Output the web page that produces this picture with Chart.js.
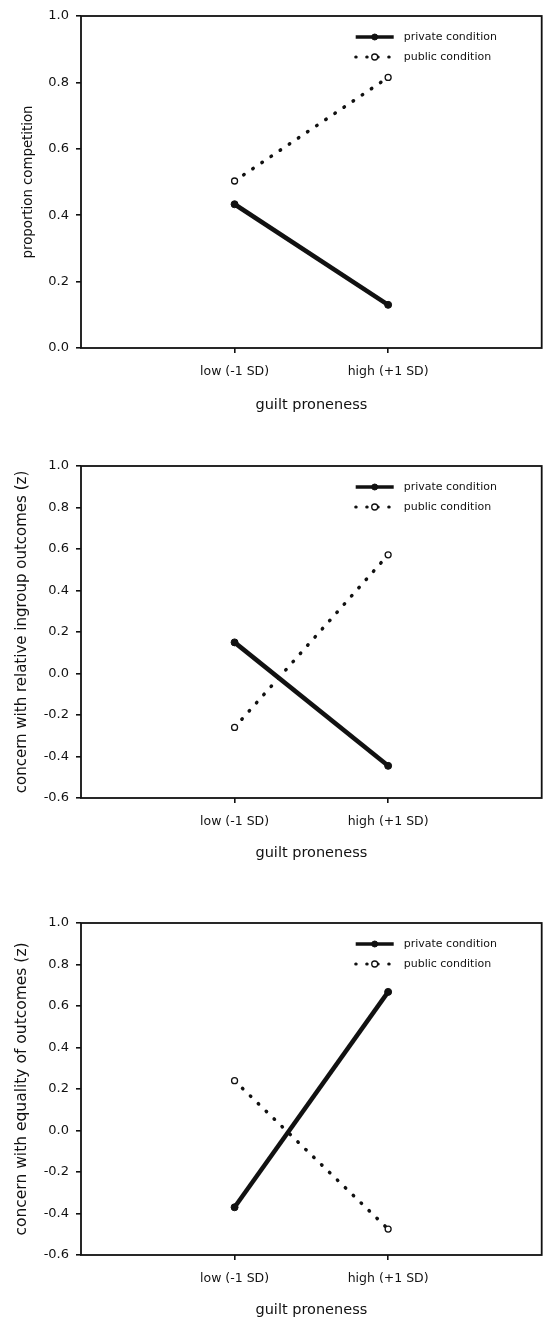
<!DOCTYPE html>
<html>
<head>
<meta charset="utf-8">
<script src="https://cdn.jsdelivr.net/npm/chart.js@4.4.0/dist/chart.umd.min.js"></script>
<style>
  body { margin: 0; background: #fff; }
  .panel { position: absolute; left: 0; width: 547px; }
</style>
</head>
<body>
<div class="panel" style="top:0;height:430px"><canvas id="c1"></canvas></div>
<div class="panel" style="top:440px;height:440px"><canvas id="c2"></canvas></div>
<div class="panel" style="top:900px;height:423px"><canvas id="c3"></canvas></div>
<script>
// guilt proneness levels (x axis)
const guiltLevels = ['low (-1 SD)', 'high (+1 SD)'];
const guiltPositions = [1, 2];
const conditionNames = ['private condition', 'public condition'];

// panel 1: proportion competition
const competitionPrivate = [0.433, 0.13];
const competitionPublic = [0.503, 0.815];
// panel 2: concern with relative ingroup outcomes (z)
const ingroupPrivate = [0.15, -0.445];
const ingroupPublic = [-0.26, 0.572];
// panel 3: concern with equality of outcomes (z)
const equalityPrivate = [-0.37, 0.668];
const equalityPublic = [0.24, -0.475];

const FONT = '"DejaVu Sans", sans-serif';
const INK = '#111';

// frame round the plot + legend in the top right corner
const frameAndLegend = {
  id: 'frameAndLegend',
  afterDatasetsDraw(chart) {
    const { ctx, chartArea: a } = chart;
    ctx.save();
    ctx.strokeStyle = INK;
    ctx.lineWidth = 1.8;
    ctx.strokeRect(a.left, a.top, a.right - a.left, a.bottom - a.top);

    chart.data.datasets.forEach((ds, i) => {
      const y = a.top + 21 + i * 20;
      const x0 = a.right - 186, x1 = a.right - 148;
      ctx.beginPath();
      ctx.setLineDash(ds.borderDash || []);
      ctx.lineCap = ds.borderCapStyle || 'butt';
      ctx.lineWidth = ds.borderWidth > 4 ? 3.5 : 3;
      ctx.strokeStyle = INK;
      ctx.moveTo(x0, y);
      ctx.lineTo(x1, y);
      ctx.stroke();
      ctx.setLineDash([]);
      ctx.beginPath();
      ctx.arc((x0 + x1) / 2, y, 3, 0, Math.PI * 2);
      ctx.fillStyle = ds.pointBackgroundColor;
      ctx.fill();
      ctx.lineWidth = ds.pointBorderWidth;
      ctx.strokeStyle = ds.pointBorderColor;
      ctx.stroke();
      ctx.fillStyle = INK;
      ctx.font = '11px ' + FONT;
      ctx.textBaseline = 'middle';
      ctx.textAlign = 'left';
      ctx.fillText(ds.label, a.right - 138, y);
    });
    ctx.restore();
  }
};

const toPoints = vals => vals.map((v, i) => ({ x: guiltPositions[i], y: v }));

function makePanel(id, yTitle, yMin, privVals, pubVals, pad, xAxisHeight, xTitlePad, yTitleSize) {
  return new Chart(document.getElementById(id), {
    type: 'line',
    data: {
      datasets: [
        {
          label: conditionNames[0],
          data: toPoints(privVals),
          borderColor: INK,
          borderWidth: 4.5,
          pointRadius: 3.5,
          pointBackgroundColor: INK,
          pointBorderColor: INK,
          pointBorderWidth: 1
        },
        {
          label: conditionNames[1],
          data: toPoints(pubVals),
          borderColor: INK,
          borderWidth: 3.5,
          borderDash: [0.5, 10.5],
          borderCapStyle: 'round',
          pointRadius: 3,
          pointBackgroundColor: '#fff',
          pointBorderColor: INK,
          pointBorderWidth: 1.3
        }
      ]
    },
    options: {
      responsive: true,
      maintainAspectRatio: false,
      animation: false,
      layout: { padding: pad },
      plugins: { legend: { display: false }, tooltip: { enabled: false } },
      scales: {
        x: {
          type: 'linear',
          min: 0,
          max: 3,
          afterBuildTicks: s => { s.ticks = guiltPositions.map(v => ({ value: v })); },
          afterFit: s => { s.height = xAxisHeight; },
          grid: { drawOnChartArea: false, drawTicks: true, tickLength: 5, color: INK, lineWidth: 1.6 },
          border: { display: false },
          ticks: {
            padding: 11,
            color: INK,
            font: { family: FONT, size: 12.5 },
            callback: v => guiltLevels[guiltPositions.indexOf(v)] || ''
          },
          title: {
            display: true,
            text: 'guilt proneness',
            color: INK,
            font: { family: FONT, size: 14.5 },
            padding: { top: 0, bottom: xTitlePad }
          }
        },
        y: {
          min: yMin,
          max: 1,
          afterFit: s => { s.width = 81 - pad.left; },
          grid: { drawOnChartArea: false, drawTicks: true, tickLength: 5, color: INK, lineWidth: 1.6 },
          border: { display: false },
          ticks: {
            stepSize: 0.2,
            padding: 7,
            color: INK,
            font: { family: FONT, size: 13 },
            callback: v => v.toFixed(1)
          },
          title: {
            display: true,
            text: yTitle,
            color: INK,
            font: { family: FONT, size: yTitleSize }
          }
        }
      }
    },
    plugins: [frameAndLegend]
  });
}

makePanel('c1', 'proportion competition', 0, competitionPrivate, competitionPublic,
  { top: 16, right: 4, left: 17, bottom: 0 }, 82, 16.3, 13.3);
makePanel('c2', 'concern with relative ingroup outcomes (z)', -0.6, ingroupPrivate, ingroupPublic,
  { top: 26, right: 4, left: 9, bottom: 0 }, 82, 18.3, 15);
makePanel('c3', 'concern with equality of outcomes (z)', -0.6, equalityPrivate, equalityPublic,
  { top: 23, right: 4, left: 9, bottom: 0 }, 68, 4.3, 15.5);
</script>
</body>
</html>
